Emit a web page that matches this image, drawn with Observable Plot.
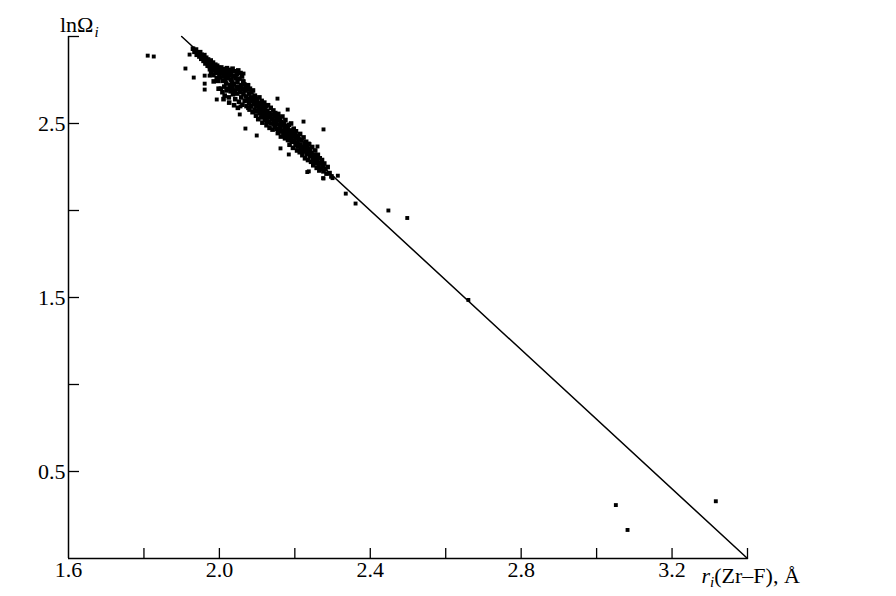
<!DOCTYPE html>
<html>
<head>
<meta charset="utf-8">
<script src="https://cdn.jsdelivr.net/npm/d3@7"></script>
<script src="https://cdn.jsdelivr.net/npm/@observablehq/plot@0.6"></script>
<style>
  html, body { margin: 0; padding: 0; background: #fff; }
</style>
</head>
<body>
<div id="chart"></div>
<script>
// ---- data ----
const xTickValues = [1.8, 2.0, 2.2, 2.4, 2.6, 2.8, 3.0, 3.2, 3.4];
const xTickLabels = [1.6, 2.0, 2.4, 2.8, 3.2];
const yTickValues = [0.5, 1.0, 1.5, 2.0, 2.5, 3.0];
const yTickLabels = [0.5, 1.5, 2.5];
const fitX = [1.9, 3.4];
const fitY = [3.0, 0.0];

const clusterPoints = [
  [1.930,2.930],[1.934,2.912],[1.938,2.925],[1.940,2.895],
  [1.944,2.902],[1.947,2.885],[1.949,2.910],[1.952,2.872],[1.953,2.895],
  [1.956,2.880],[1.958,2.860],[1.960,2.893],[1.962,2.870],[1.963,2.845],[1.965,2.878],[1.967,2.857],[1.969,2.832],[1.970,2.868],
  [1.972,2.848],[1.974,2.830],[1.975,2.812],[1.977,2.862],[1.978,2.795],[1.980,2.840],[1.981,2.818],[1.983,2.850],[1.984,2.778],[1.986,2.826],[1.987,2.805],[1.989,2.838],[1.990,2.790],[1.991,2.815],[1.993,2.760],[1.994,2.832],[1.996,2.800],[1.997,2.745],[1.999,2.820],[2.000,2.782],
  [2.002,2.808],[2.003,2.765],[2.004,2.700],[2.005,2.822],[2.007,2.790],[2.008,2.680],[2.009,2.745],[2.010,2.812],[2.012,2.772],[2.013,2.712],[2.014,2.660],[2.015,2.800],[2.017,2.785],[2.018,2.730],[2.019,2.690],[2.020,2.818],[2.022,2.762],[2.023,2.700],[2.024,2.795],[2.025,2.650],[2.027,2.775],[2.028,2.722],[2.029,2.808],[2.030,2.685],
  [2.031,2.790],[2.032,2.750],[2.033,2.705],[2.035,2.815],[2.036,2.668],[2.037,2.772],[2.038,2.728],[2.040,2.800],[2.041,2.690],[2.042,2.640],[2.043,2.760],[2.045,2.712],[2.046,2.785],[2.047,2.672],[2.048,2.740],[2.050,2.805],[2.051,2.700],[2.052,2.625],[2.053,2.758],[2.055,2.680],[2.056,2.790],[2.057,2.720],[2.058,2.650],[2.060,2.770],[2.061,2.608],
  [2.062,2.700],[2.063,2.742],[2.064,2.668],[2.066,2.725],[2.067,2.630],[2.068,2.690],[2.070,2.712],[2.071,2.655],[2.072,2.600],[2.074,2.695],[2.075,2.640],[2.076,2.720],[2.078,2.672],[2.079,2.618],[2.080,2.580],[2.081,2.700],[2.083,2.650],[2.084,2.600],[2.085,2.678],[2.087,2.630],[2.088,2.565],[2.089,2.690],
  [2.090,2.648],[2.091,2.610],[2.093,2.580],[2.094,2.660],[2.095,2.625],[2.097,2.545],[2.098,2.600],[2.099,2.640],[2.100,2.572],[2.102,2.618],[2.103,2.525],[2.104,2.590],[2.106,2.650],[2.107,2.560],[2.108,2.610],[2.110,2.535],[2.111,2.585],[2.112,2.630],[2.114,2.505],[2.115,2.565],[2.116,2.600],[2.118,2.545],[2.119,2.620],
  [2.120,2.580],[2.121,2.520],[2.123,2.598],[2.124,2.555],[2.125,2.490],[2.127,2.570],[2.128,2.535],[2.129,2.605],[2.131,2.510],[2.132,2.560],[2.133,2.475],[2.135,2.540],[2.136,2.590],[2.137,2.500],[2.139,2.552],[2.140,2.525],[2.141,2.465],[2.143,2.575],[2.144,2.515],[2.146,2.545],[2.147,2.480],[2.148,2.560],[2.150,2.500],
  [2.151,2.538],[2.152,2.470],[2.154,2.520],[2.155,2.445],[2.156,2.555],[2.158,2.495],[2.159,2.460],[2.160,2.530],[2.162,2.480],[2.163,2.425],[2.164,2.510],[2.166,2.455],[2.167,2.540],[2.168,2.490],[2.170,2.440],[2.171,2.500],[2.173,2.468],[2.174,2.415],[2.175,2.520],[2.177,2.450],[2.178,2.485],[2.180,2.430],
  [2.181,2.470],[2.182,2.405],[2.184,2.492],[2.185,2.440],[2.186,2.378],[2.188,2.460],[2.189,2.420],[2.190,2.500],[2.192,2.395],[2.193,2.445],[2.195,2.360],[2.196,2.425],[2.197,2.470],[2.199,2.400],[2.200,2.440],[2.202,2.375],[2.203,2.455],[2.204,2.415],[2.206,2.345],[2.207,2.390],[2.209,2.430],
  [2.210,2.370],[2.211,2.408],[2.213,2.335],[2.214,2.440],[2.215,2.380],[2.217,2.352],[2.218,2.405],[2.220,2.318],[2.221,2.365],[2.223,2.420],[2.224,2.340],[2.226,2.385],[2.227,2.300],[2.229,2.355],[2.230,2.395],[2.232,2.325],[2.233,2.372],[2.235,2.290],[2.236,2.345],[2.238,2.380],
  [2.240,2.312],[2.241,2.355],[2.243,2.280],[2.244,2.330],[2.246,2.365],[2.248,2.295],[2.249,2.260],[2.251,2.320],[2.253,2.272],[2.254,2.345],[2.256,2.300],[2.258,2.245],[2.259,2.285],[2.261,2.320],[2.263,2.262],[2.265,2.230],[2.266,2.300],[2.268,2.275],[2.270,2.240],[2.272,2.290],[2.274,2.255],[2.276,2.225],[2.278,2.270],[2.281,2.240],[2.284,2.212],[2.287,2.250],
  [2.292,2.215],[2.297,2.196],
  [1.985,2.742],[1.998,2.700],[2.011,2.640],[2.026,2.620],[2.039,2.605],[2.049,2.590],[2.016,2.752],[2.034,2.735],[2.054,2.710],[2.065,2.695],
  [2.077,2.590],[2.096,2.570],[2.113,2.540],[2.126,2.512],[2.145,2.495],[2.161,2.455],[2.176,2.432],[2.191,2.412],[2.208,2.368],[2.222,2.342],[2.239,2.330],[2.255,2.282]
];

const scatterPoints = [
  [1.810,2.890],[1.826,2.885],
  [1.921,2.896],[1.910,2.816],[1.932,2.764],[1.961,2.775],[1.974,2.775],[1.961,2.729],[1.961,2.695],[1.993,2.638],
  [2.069,2.471],[2.099,2.431],[2.154,2.643],[2.181,2.580],[2.223,2.511],[2.276,2.466],[2.064,2.787],[2.064,2.741],
  [2.237,2.385],[2.260,2.368],[2.184,2.322],[2.162,2.357],[2.276,2.184],[2.237,2.225],[2.056,2.598],[2.054,2.552],
  [2.233,2.221],[2.275,2.186],[2.300,2.186],[2.314,2.200],[2.335,2.097],[2.361,2.040],
  [2.448,2.000],[2.498,1.957],[2.660,1.486],
  [3.051,0.307],[3.082,0.164],[3.316,0.329]
];

const fitLine = fitX.map((x, i) => ({x, y: fitY[i]}));

// ---- layout ----
const W = 896, H = 596;
const mL = 68, mR = 149, mT = 36, mB = 38;
const frameW = W - mL - mR, frameH = H - mT - mB;
const serif = "Liberation Serif, Times New Roman, serif";

const chart = Plot.plot({
  width: W,
  height: H,
  marginLeft: mL,
  marginRight: mR,
  marginTop: mT,
  marginBottom: mB,
  style: {background: "#fff", fontFamily: serif, color: "#000"},
  x: {domain: [1.6, 3.4], axis: null},
  y: {domain: [0, 3], axis: null},
  marks: [
    Plot.ruleY([0], {x1: 1.6, x2: 3.4, stroke: "#000", strokeWidth: 1.5}),
    Plot.ruleX([1.6], {y1: 0, y2: 3, stroke: "#000", strokeWidth: 1.5}),
    Plot.tickX(xTickValues, {x: d => d, insetTop: frameH - 10, stroke: "#000", strokeWidth: 1.3}),
    Plot.tickY(yTickValues, {y: d => d, insetRight: frameW - 11, stroke: "#000", strokeWidth: 1.3}),
    Plot.text(xTickLabels, {x: d => d, frameAnchor: "bottom", dy: 18, text: d => d.toFixed(1), fontSize: 22, fontFamily: serif, fill: "#000"}),
    Plot.text(yTickLabels, {y: d => d, frameAnchor: "left", dx: -3, textAnchor: "end", text: d => d.toFixed(1), fontSize: 22, fontFamily: serif, fill: "#000"}),
    Plot.line(fitLine, {x: "x", y: "y", stroke: "#000", strokeWidth: 1.5}),
    Plot.dot(clusterPoints, {x: d => d[0], y: d => d[1], symbol: "square", r: 2.6, fill: "#000", stroke: "none"}),
    Plot.dot(scatterPoints, {x: d => d[0], y: d => d[1], symbol: "square", r: 2.2, fill: "#000", stroke: "none"})
  ]
});

document.getElementById("chart").appendChild(chart);

// axis titles with subscripts
const svg = d3.select(chart);
const xs = chart.scale("x"), ys = chart.scale("y");

const yTitle = svg.append("text")
  .attr("x", xs.apply(1.6) - 8)
  .attr("y", ys.apply(3.0) - 4)
  .attr("text-anchor", "start")
  .attr("font-family", serif)
  .attr("font-size", 22)
  .attr("fill", "#000");
yTitle.append("tspan").text("lnΩ");
yTitle.append("tspan").attr("font-style", "italic").attr("font-size", 15).attr("dy", 5).attr("dx", 1).text("i");

const xTitle = svg.append("text")
  .attr("x", xs.apply(3.2) + 30)
  .attr("y", ys.apply(0) + 25)
  .attr("text-anchor", "start")
  .attr("font-family", serif)
  .attr("font-size", 22)
  .attr("fill", "#000");
xTitle.append("tspan").attr("font-style", "italic").text("r");
xTitle.append("tspan").attr("font-style", "italic").attr("font-size", 15).attr("dy", 4).text("i");
xTitle.append("tspan").attr("dy", -4).text("(Zr–F), Å");
</script>
</body>
</html>
